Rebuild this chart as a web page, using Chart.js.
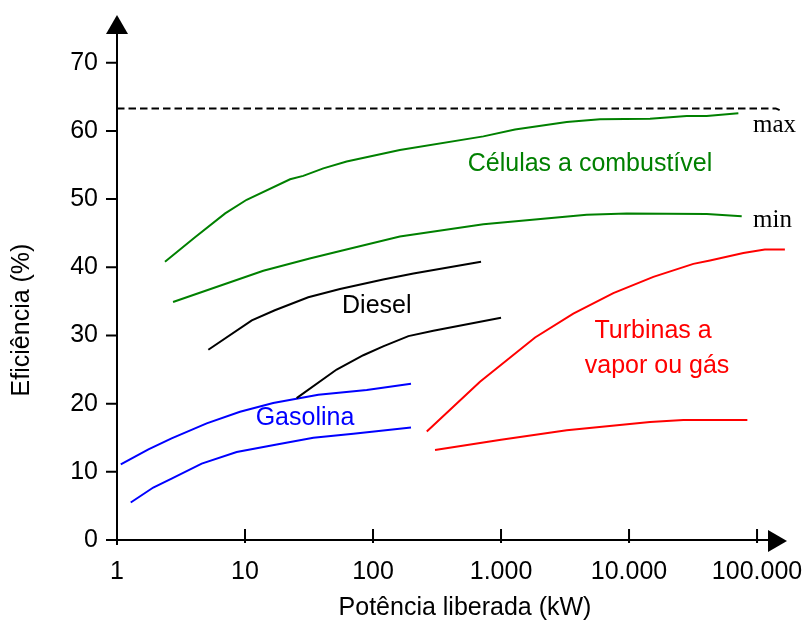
<!DOCTYPE html>
<html>
<head>
<meta charset="utf-8">
<script src="https://cdn.jsdelivr.net/npm/chart.js@4.4.1/dist/chart.umd.min.js"></script>
<style>
  html, body { margin: 0; padding: 0; background: #fff; }
  canvas { display: block; }
</style>
</head>
<body>
<canvas id="chEfic" width="807" height="626"></canvas>
<script>
// x: power output in kW (log), y: efficiency in %
const xTicks = [1, 10, 100, 1000, 10000, 100000];
const xTickLabels = ['1', '10', '100', '1.000', '10.000', '100.000'];
const yTicks = [0, 10, 20, 30, 40, 50, 60, 70];

// theoretical limit (dashed)
const limiteMax = [[1, 63.3], [140000, 63.3], [152000, 63.0]];

// fuel cells, upper and lower bound
const celulasMax = [[2.37, 40.8], [4.07, 44.4], [7.0, 47.9], [10.3, 49.9], [22.5, 52.9], [28.5, 53.4],
  [40.9, 54.5], [62.2, 55.5], [162, 57.2], [728, 59.2], [1286, 60.2], [3260, 61.3], [5930, 61.7],
  [14590, 61.8], [28220, 62.2], [40460, 62.2], [71450, 62.6]];
const celulasMin = [[2.74, 34.9], [13.9, 39.5], [32, 41.3], [58.6, 42.5], [162, 44.5], [728, 46.3],
  [4670, 47.7], [9590, 47.9], [40460, 47.8], [75900, 47.5]];

const dieselMax = [[5.17, 27.9], [11.3, 32.2], [17.1, 33.7], [31.2, 35.6], [55.2, 36.8], [120, 38.2],
  [207, 39.1], [698, 40.8]];
const dieselMin = [[25.3, 20.8], [52, 25.0], [84, 27.1], [120, 28.4], [189, 29.9], [296, 30.7], [1000, 32.6]];

const gasolinaMax = [[1.07, 11.1], [1.76, 13.3], [2.67, 14.9], [5.02, 17.1], [9.14, 18.8], [16.6, 20.1],
  [37.4, 21.3], [89.3, 22.0], [198, 22.9]];
const gasolinaMin = [[1.28, 5.5], [1.92, 7.7], [2.67, 9.0], [4.59, 11.2], [8.61, 12.9], [17.7, 14.0],
  [34.2, 15.0], [70.2, 15.6], [198, 16.5]];

const turbinasMax = [[263, 15.9], [685, 23.2], [1845, 29.7], [3670, 33.2], [7540, 36.2], [15490, 38.6],
  [31800, 40.5], [42900, 41.0], [78200, 42.1], [115000, 42.6], [165000, 42.6]];
const turbinasMin = [[305, 13.2], [1000, 14.7], [3260, 16.1], [14590, 17.3], [26540, 17.6], [84000, 17.6]];

var verde = '#008000';
var azul = '#0000ff';
var vermelho = '#ff0000';
var sans = '"Liberation Sans", Arial, Helvetica, sans-serif';
var serif = '"Liberation Serif", "Times New Roman", serif';

function pts(arr) {
  return arr.map(p => ({ x: p[0], y: p[1] }));
}

function serie(arr, color, dash) {
  return {
    data: pts(arr),
    borderColor: color,
    borderWidth: 2,
    borderDash: dash || [],
    pointRadius: 0,
    tension: 0,
    fill: false
  };
}

// labels placed in data units, converted with the scales
var notas = [
  { text: 'Células a combustível', x: 4955, y: 55.2, color: verde, font: sans, align: 'center' },
  { text: 'Diesel', x: 107, y: 34.3, color: '#000', font: sans, align: 'center' },
  { text: 'Gasolina', x: 29.4, y: 17.9, color: azul, font: sans, align: 'center' },
  { text: 'Turbinas a', x: 15400, y: 30.7, color: vermelho, font: sans, align: 'center' },
  { text: 'vapor ou gás', x: 16550, y: 25.5, color: vermelho, font: sans, align: 'center' },
  { text: 'max', x: 93000, y: 60.8, color: '#000', font: serif, align: 'left' },
  { text: 'min', x: 93000, y: 46.8, color: '#000', font: serif, align: 'left' }
];

const eixos = {
  id: 'eixos',
  afterDraw(chart) {
    const ctx = chart.ctx;
    const xs = chart.scales.x, ys = chart.scales.y;
    const x0 = xs.getPixelForValue(1);
    const y0 = ys.getPixelForValue(0);
    const top = chart.chartArea.top, right = chart.chartArea.right;

    ctx.save();
    ctx.strokeStyle = '#000';
    ctx.fillStyle = '#000';
    ctx.lineWidth = 2;

    // axis lines
    ctx.beginPath();
    ctx.moveTo(x0, y0 + 5);
    ctx.lineTo(x0, top + 18);
    ctx.moveTo(x0 - 6, y0);
    ctx.lineTo(right - 19, y0);
    ctx.stroke();

    // arrow heads
    ctx.beginPath();
    ctx.moveTo(x0, top);
    ctx.lineTo(x0 - 11, top + 19);
    ctx.lineTo(x0 + 11, top + 19);
    ctx.closePath();
    ctx.fill();
    ctx.beginPath();
    ctx.moveTo(right, y0 + 1);
    ctx.lineTo(right - 19, y0 - 10);
    ctx.lineTo(right - 19, y0 + 12);
    ctx.closePath();
    ctx.fill();

    // tick marks
    ctx.beginPath();
    yTicks.forEach(v => {
      const py = ys.getPixelForValue(v);
      ctx.moveTo(x0 - 11, py);
      ctx.lineTo(x0, py);
    });
    xTicks.forEach(v => {
      const px = xs.getPixelForValue(v);
      ctx.moveTo(px, y0 - 11);
      ctx.lineTo(px, y0 + 3);
    });
    ctx.stroke();

    // axis titles
    ctx.font = '25px ' + sans;
    ctx.textAlign = 'center';
    ctx.textBaseline = 'middle';
    ctx.fillText('Potência liberada (kW)', 465, 608);
    ctx.save();
    ctx.translate(22, 320);
    ctx.rotate(-Math.PI / 2);
    ctx.fillText('Eficiência (%)', 0, 0);
    ctx.restore();

    // curve labels
    notas.forEach(n => {
      ctx.font = '25px ' + n.font;
      ctx.fillStyle = n.color;
      ctx.textAlign = n.align;
      ctx.textBaseline = 'middle';
      ctx.fillText(n.text, xs.getPixelForValue(n.x), ys.getPixelForValue(n.y));
    });
    ctx.restore();
  }
};

var chEfic = document.getElementById('chEfic');
new Chart(chEfic, {
  type: 'line',
  data: {
    datasets: [
      serie(limiteMax, '#000', [7.5, 4]),
      serie(celulasMax, verde),
      serie(celulasMin, verde),
      serie(dieselMax, '#000'),
      serie(dieselMin, '#000'),
      serie(gasolinaMax, azul),
      serie(gasolinaMin, azul),
      serie(turbinasMax, vermelho),
      serie(turbinasMin, vermelho)
    ]
  },
  plugins: [eixos],
  options: {
    responsive: false,
    animation: false,
    layout: { padding: { top: 15, right: 20, left: 0, bottom: 0 } },
    plugins: {
      legend: { display: false },
      tooltip: { enabled: false }
    },
    scales: {
      x: {
        type: 'logarithmic',
        min: 1,
        max: 171400,
        grid: { display: false, drawTicks: false },
        border: { display: false },
        afterBuildTicks: s => { s.ticks = xTicks.map(v => ({ value: v })); },
        afterFit: s => { s.height = 86; s.paddingLeft = 0; s.paddingRight = 0; },
        ticks: {
          color: '#000',
          font: { family: sans, size: 25 },
          padding: 17,
          maxRotation: 0,
          autoSkip: false,
          callback: (v, i) => xTickLabels[i]
        }
      },
      y: {
        type: 'linear',
        min: 0,
        max: 77,
        grid: { display: false, drawTicks: false },
        border: { display: false },
        afterBuildTicks: s => { s.ticks = yTicks.map(v => ({ value: v })); },
        afterFit: s => { s.width = 117; s.paddingTop = 0; s.paddingBottom = 0; },
        ticks: {
          color: '#000',
          font: { family: sans, size: 25 },
          padding: 19,
          callback: v => String(v)
        }
      }
    }
  }
});
</script>
</body>
</html>
